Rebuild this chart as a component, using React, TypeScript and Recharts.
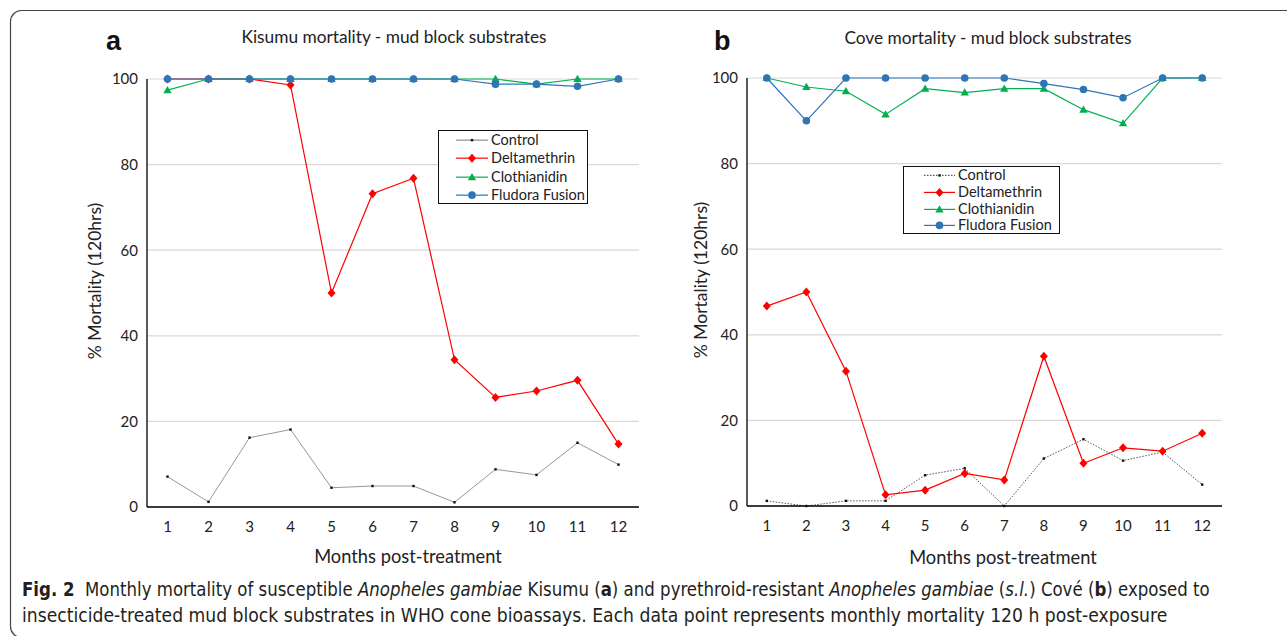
import React, { useLayoutEffect, useRef, useState } from 'react';
import { LineChart, Line, XAxis, YAxis, CartesianGrid } from 'recharts';

const FONT = "Lato, 'Open Sans', sans-serif";
const CAPFONT = "'Liberation Sans Narrow', 'DejaVu Sans Condensed', 'Liberation Sans', sans-serif";

const months = [1, 2, 3, 4, 5, 6, 7, 8, 9, 10, 11, 12];
const yTicks = [0, 20, 40, 60, 80, 100];
const seriesNames = ['Control', 'Deltamethrin', 'Clothianidin', 'Fludora Fusion'];

// Panel a: Kisumu
const kisumuControl = [7.1, 1.2, 16.2, 18.1, 4.5, 4.9, 4.9, 1.1, 8.8, 7.5, 15, 9.9];
const kisumuDelta = [100, 100, 100, 98.6, 50, 73.2, 76.8, 34.4, 25.6, 27.1, 29.6, 14.7];
const kisumuCloth = [97.4, 100, 100, 100, 100, 100, 100, 100, 100, 98.8, 100, 100];
const kisumuFludora = [100, 100, 100, 100, 100, 100, 100, 100, 98.8, 98.8, 98.3, 100];

// Panel b: Cove
const coveControl = [1.2, 0, 1.2, 1.2, 7.2, 8.8, 0, 11.1, 15.6, 10.6, 12.6, 5.0];
const coveDelta = [46.7, 50, 31.5, 2.6, 3.7, 7.6, 6.1, 35, 10, 13.6, 12.8, 17];
const coveCloth = [100, 97.9, 96.9, 91.5, 97.5, 96.6, 97.5, 97.5, 92.6, 89.4, 100, 100];
const coveFludora = [100, 90, 100, 100, 100, 100, 100, 98.7, 97.3, 95.4, 100, 100];

const buildData = (c: number[], d: number[], cl: number[], f: number[]) =>
  months.map((m, i) => ({ month: m, control: c[i], delta: d[i], cloth: cl[i], fludora: f[i] }));

const kisumuData = buildData(kisumuControl, kisumuDelta, kisumuCloth, kisumuFludora);
const coveData = buildData(coveControl, coveDelta, coveCloth, coveFludora);

const RED = '#ff0000';
const GREEN = '#00b050';
const BLUE = '#2e75b6';
const GRAY = '#8c8c8c';

const diamondPath = (cx: number, cy: number) =>
  `M${cx},${cy - 4.5}L${cx + 4},${cy}L${cx},${cy + 4.5}L${cx - 4},${cy}Z`;
const trianglePath = (cx: number, cy: number) =>
  `M${cx},${cy - 4.2}L${cx + 4.2},${cy + 3}L${cx - 4.2},${cy + 3}Z`;

const ControlDot = (p: any) => (
  <rect key={`c${p.index}`} x={p.cx - 1.2} y={p.cy - 1.2} width={2.4} height={2.4} fill="#111" />
);
const DeltaDot = (p: any) => <path key={`d${p.index}`} d={diamondPath(p.cx, p.cy)} fill={RED} />;
const ClothDot = (p: any) => <path key={`t${p.index}`} d={trianglePath(p.cx, p.cy)} fill={GREEN} />;
const FludoraDot = (p: any) => <circle key={`f${p.index}`} cx={p.cx} cy={p.cy} r={3.8} fill={BLUE} />;

const tickStyle = { fill: '#222', fontSize: 15, fontFamily: FONT };

function Panel(props: { data: any[]; left: number; width: number; margin: any; dashed: boolean }) {
  const { data, left, width, margin, dashed } = props;
  return (
    <div style={{ position: 'absolute', left, top: 0 }}>
      <LineChart width={width} height={600} data={data} margin={margin}>
        <CartesianGrid vertical={false} stroke="#d9d9d9" strokeWidth={1.2} />
        <XAxis
          dataKey="month"
          type="number"
          domain={[0.5, 12.5]}
          ticks={months}
          interval={0}
          tickLine={false}
          tickSize={0}
          tickMargin={14}
          height={30}
          axisLine={{ stroke: '#000', strokeWidth: 1.3 }}
          tick={tickStyle}
        />
        <YAxis
          type="number"
          domain={[0, 100]}
          ticks={yTicks}
          interval={0}
          width={40}
          tickLine={false}
          tickSize={0}
          tickMargin={9}
          axisLine={{ stroke: '#000', strokeWidth: 1.3 }}
          tick={tickStyle}
        />
        <Line
          dataKey="control"
          stroke={dashed ? '#555' : GRAY}
          strokeWidth={dashed ? 1 : 0.9}
          strokeDasharray={dashed ? '1.5 1.5' : undefined}
          dot={ControlDot}
          activeDot={false}
          isAnimationActive={false}
        />
        <Line dataKey="delta" stroke={RED} strokeWidth={1.2} dot={DeltaDot} activeDot={false} isAnimationActive={false} />
        <Line dataKey="cloth" stroke={GREEN} strokeWidth={1.2} dot={ClothDot} activeDot={false} isAnimationActive={false} />
        <Line dataKey="fludora" stroke={BLUE} strokeWidth={1.2} dot={FludoraDot} activeDot={false} isAnimationActive={false} />
      </LineChart>
    </div>
  );
}

function LegendBox(props: { left: number; top: number; width: number; rowH: number; lineX: number; lineW: number; dashed: boolean }) {
  const { left, top, width, rowH, lineX, lineW, dashed } = props;
  const markers = [
    (cx: number, cy: number) => <rect x={cx - 1.2} y={cy - 1.2} width={2.4} height={2.4} fill="#111" />,
    (cx: number, cy: number) => <path d={diamondPath(cx, cy)} fill={RED} />,
    (cx: number, cy: number) => <path d={trianglePath(cx, cy)} fill={GREEN} />,
    (cx: number, cy: number) => <circle cx={cx} cy={cy} r={3.8} fill={BLUE} />,
  ];
  const colors = [dashed ? '#555' : GRAY, RED, GREEN, BLUE];
  return (
    <div
      style={{
        position: 'absolute',
        left,
        top,
        width,
        height: rowH * 4 + 1,
        border: '1.2px solid #111',
        boxSizing: 'border-box',
        background: '#fff',
      }}
    >
      {seriesNames.map((name, i) => (
        <div key={name} style={{ position: 'absolute', left: 0, top: i * rowH, height: rowH, width: '100%' }}>
          <svg style={{ position: 'absolute', left: lineX, top: 0 }} width={lineW} height={rowH}>
            <line
              x1={0}
              x2={lineW}
              y1={rowH / 2}
              y2={rowH / 2}
              stroke={colors[i]}
              strokeWidth={1.2}
              strokeDasharray={i === 0 && dashed ? '1.5 1.5' : undefined}
            />
            {markers[i](lineW / 2, rowH / 2)}
          </svg>
          <span
            style={{
              position: 'absolute',
              left: lineX + lineW + 3,
              top: 0,
              lineHeight: `${rowH}px`,
              fontFamily: FONT,
              fontSize: 14.5,
              color: '#222',
              whiteSpace: 'nowrap',
            }}
          >
            {name}
          </span>
        </div>
      ))}
    </div>
  );
}

function FitText(props: { x: number; y: number; width: number; children: React.ReactNode }) {
  const ref = useRef<SVGTextElement>(null);
  const [sx, setSx] = useState(1);
  useLayoutEffect(() => {
    if (ref.current) {
      const w = ref.current.getComputedTextLength();
      if (w > 0) setSx(props.width / w);
    }
  }, [props.width]);
  return (
    <g transform={`translate(${props.x},${props.y}) scale(${sx},1)`}>
      <text ref={ref} x={0} y={0} fontFamily={CAPFONT} fontSize={19} fill="#231f20">
        {props.children}
      </text>
    </g>
  );
}

export default function App() {
  return (
    <div style={{ position: 'absolute', left: 0, top: 0, width: 1287, height: 636, background: '#fff', overflow: 'hidden' }}>
      <svg style={{ position: 'absolute', left: 0, top: 0 }} width={1287} height={636}>
        <rect x={10.5} y={10.5} width={1300} height={627} rx={11} ry={11} fill="none" stroke="#444" strokeWidth={1.2} />
        <text x={106} y={50} fontFamily="Arial, 'Liberation Sans', sans-serif" fontWeight="bold" fontSize={27} fill="#111">a</text>
        <text x={714} y={50} fontFamily="Arial, 'Liberation Sans', sans-serif" fontWeight="bold" fontSize={27} fill="#111">b</text>
        <text x={394} y={43} textAnchor="middle" fontFamily={FONT} fontSize={17.3} fill="#222">Kisumu mortality - mud block substrates</text>
        <text x={988} y={44} textAnchor="middle" fontFamily={FONT} fontSize={17.3} fill="#222">Cove mortality - mud block substrates</text>
        <text x={408} y={563} textAnchor="middle" fontFamily={FONT} fontSize={18.3} fill="#222">Months post-treatment</text>
        <text x={1003} y={564} textAnchor="middle" fontFamily={FONT} fontSize={18.3} fill="#222">Months post-treatment</text>
        <text transform="translate(101,281) rotate(-90)" textAnchor="middle" fontFamily={FONT} fontSize={17.5} fill="#222">% Mortality (120hrs)</text>
        <text transform="translate(707,280) rotate(-90)" textAnchor="middle" fontFamily={FONT} fontSize={17.5} fill="#222">% Mortality (120hrs)</text>
        <FitText x={22} y={596} width={1188}>
          <tspan fontWeight="bold">Fig. 2</tspan>
          <tspan>{'\u00a0\u00a0Monthly mortality of susceptible '}</tspan>
          <tspan fontStyle="italic">Anopheles gambiae</tspan>
          <tspan>{' Kisumu ('}</tspan>
          <tspan fontWeight="bold">a</tspan>
          <tspan>{') and pyrethroid-resistant '}</tspan>
          <tspan fontStyle="italic">Anopheles gambiae</tspan>
          <tspan>{' ('}</tspan>
          <tspan fontStyle="italic">s.l.</tspan>
          <tspan>{') Cové ('}</tspan>
          <tspan fontWeight="bold">b</tspan>
          <tspan>{') exposed to'}</tspan>
        </FitText>
        <FitText x={22} y={622} width={1146}>
          insecticide-treated mud block substrates in WHO cone bioassays. Each data point represents monthly mortality 120 h post-exposure
        </FitText>
      </svg>
      <Panel data={kisumuData} left={0} width={660} margin={{ top: 79, left: 107, right: 21, bottom: 63 }} dashed={false} />
      <Panel data={coveData} left={660} width={600} margin={{ top: 78, left: 47, right: 38, bottom: 64 }} dashed={true} />
      <LegendBox left={438} top={130} width={150} rowH={18.3} lineX={17} lineW={32} dashed={false} />
      <LegendBox left={903} top={166} width={157} rowH={16.8} lineX={20} lineW={31} dashed={true} />
    </div>
  );
}
